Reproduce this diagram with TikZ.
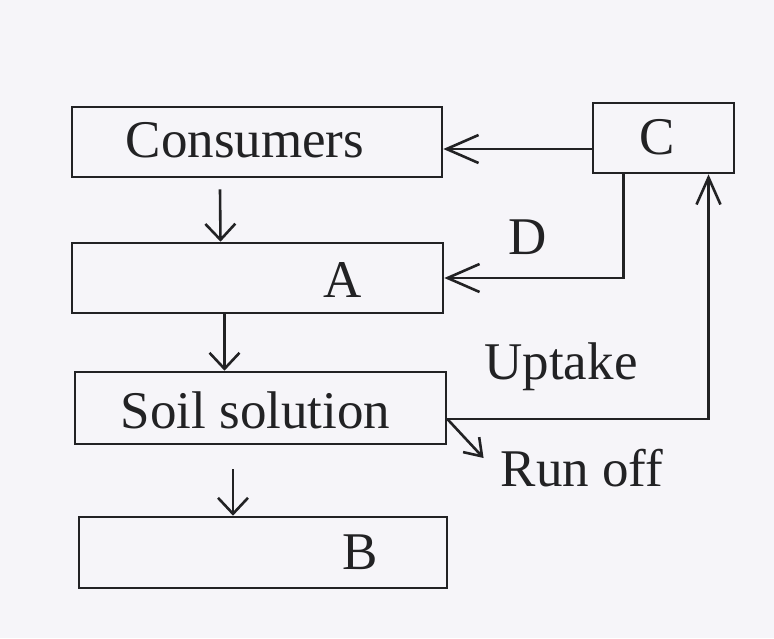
\documentclass[tikz,border=0pt]{standalone}
\usepackage{fontspec}
\setmainfont{Liberation Serif}
\usetikzlibrary{arrows.meta}
\definecolor{bg}{RGB}{246,245,249}
\definecolor{ink}{RGB}{34,34,36}
\begin{document}
\begin{tikzpicture}[x=1pt,y=-1pt,
  font=\fontsize{53}{60}\selectfont,
  every node/.style={text=ink},
  box/.style={draw=ink,line width=2.6pt,minimum height=70pt,inner sep=0pt},
  lbl/.style={inner sep=0pt},
  darr/.style={draw=ink,line width=2.6pt,-{Straight Barb[length=16pt,width=30pt,line width=2.6pt]}},
  sarr/.style={draw=ink,line width=2.6pt,-{Straight Barb[length=32pt,width=28pt,line width=2.6pt]}},
  uarr/.style={draw=ink,line width=2.6pt,-{Straight Barb[length=27pt,width=24pt,line width=2.6pt]}},
  rarr/.style={draw=ink,line width=2.6pt,-{Straight Barb[length=16pt,width=22pt,line width=2.6pt]}}]
\useasboundingbox[fill=bg] (0,0) rectangle (774,638);
\node[box,minimum width=370pt,label={[lbl,xshift=-12pt,yshift=2pt]center:Consumers}] (cons) at (257,142) {};
\node[box,minimum width=141pt,label={[lbl,xshift=-6pt,yshift=1pt]center:C}] (c) at (663.5,138) {};
\node[box,minimum width=371pt,label={[lbl,xshift=85pt,yshift=-2pt]center:A}] (a) at (257.5,278) {};
\node[box,minimum width=371pt,minimum height=72pt,label={[lbl,xshift=-5pt,yshift=-2pt]center:Soil solution}] (soil) at (260.5,408) {};
\node[box,minimum width=368pt,minimum height=71pt,label={[lbl,xshift=97pt]center:B}] (b) at (263,552.5) {};
\node[lbl] (d) at (528,237) {D};
\node[lbl] (up) at (561,367) {Uptake};
\node[lbl] (ro) at (582,468) {Run off};
\draw[darr] ([xshift=-37pt,yshift=-11pt]cons.south) -- ([xshift=-37pt]a.north);
\draw[darr] ([xshift=-33pt]a.south) -- ([xshift=-33pt]a.south |- soil.north);
\draw[darr] ([xshift=-30pt,yshift=-24pt]b.north |- soil.south) -- ([xshift=-30pt]b.north);
\draw[sarr] ([yshift=-11pt]c.west) -- ([yshift=-11pt]c.west -| cons.east);
\draw[sarr] ([xshift=-40pt]c.south) |- (a.east);
\draw[uarr] ([yshift=-11pt]soil.east) -| ([xshift=45pt]c.south);
\draw[rarr] ([yshift=-11pt]soil.east) -- ([xshift=-17pt,yshift=10pt]ro.west);
\end{tikzpicture}
\end{document}
